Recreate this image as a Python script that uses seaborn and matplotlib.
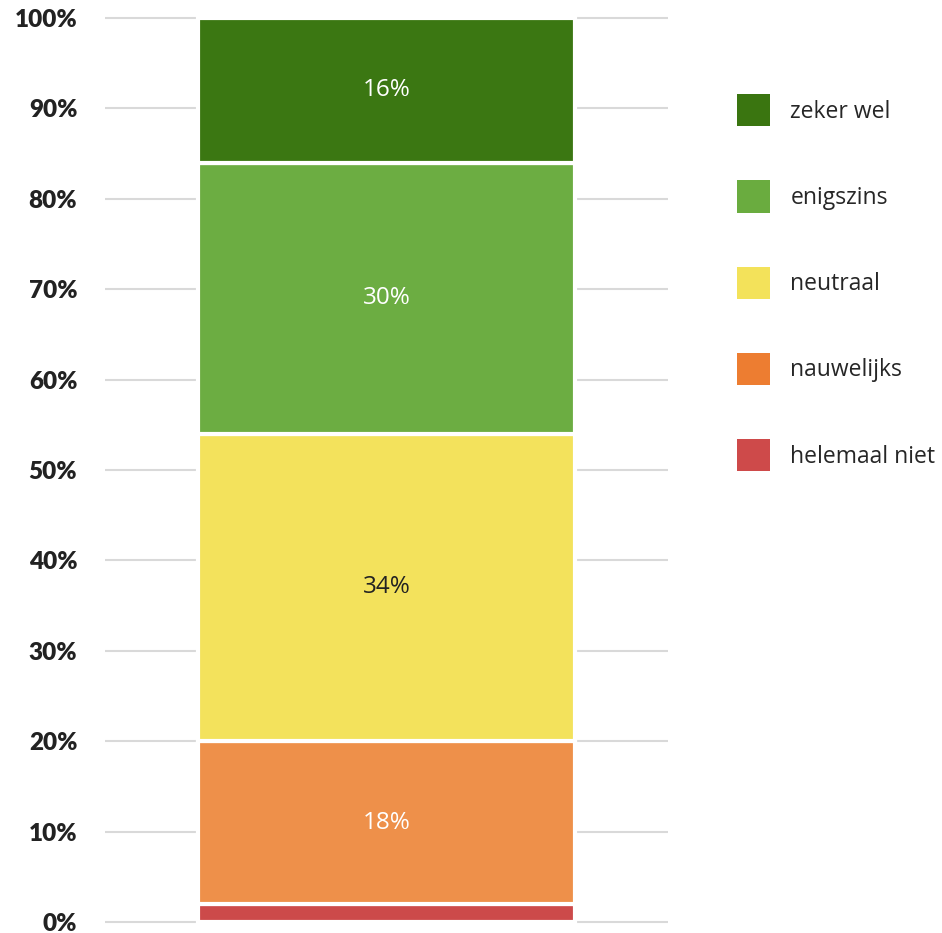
import matplotlib
matplotlib.use("Agg")
import matplotlib.pyplot as plt
import matplotlib.patches as mpatches
import seaborn as sns

# Data (bottom to top)
categories = ["helemaal niet", "nauwelijks", "neutraal", "enigszins", "zeker wel"]
values = [2, 18, 34, 30, 16]
bar_colors = ["#CC4A4A", "#EE904A", "#F3E25C", "#6CAD42", "#3B7712"]
legend_colors = ["#CE4A4A", "#ED7D31", "#F3E25A", "#6AAC3F", "#3A7510"]
label_colors = [None, "white", "#222222", "white", "white"]
yticks = list(range(0, 101, 10))
ytick_labels = [f"{t}%" for t in yticks]

sns.set_style("white")
plt.rcParams["font.family"] = ["Open Sans", "DejaVu Sans"]

fig = plt.figure(figsize=(9.42, 9.33), dpi=100)
ax = fig.add_axes([0.1115, 0.00697, 0.5977, 0.9786])

bottom = 0
for cat, val, col, lc in zip(categories, values, bar_colors, label_colors):
    sns.barplot(x=["q"], y=[val], bottom=bottom, color=col, width=0.67,
                edgecolor="white", linewidth=3, saturation=1, ax=ax, zorder=3)
    if lc is not None:
        ax.text(0, bottom + val / 2, f"{val}%", ha="center", va="center",
                color=lc, fontsize=17.5, zorder=4)
    bottom += val

ax.set_xlim(-0.5, 0.5)
ax.set_ylim(-0.5, 100.5)
ax.set_yticks(yticks)
ax.set_yticklabels(ytick_labels, fontsize=17.5, fontweight="heavy",
                   color="#222222", family=["Lato", "DejaVu Sans"])
ax.set_xticks([])
ax.set_xlabel("")
ax.set_ylabel("")
ax.tick_params(axis="y", length=0, pad=20)
ax.yaxis.grid(True, color="#D9D9D9", linewidth=1.5, zorder=0)
ax.set_axisbelow(True)
for s in ax.spines.values():
    s.set_visible(False)

handles = [mpatches.Patch(facecolor=c, edgecolor="none", label=l)
           for l, c in zip(categories[::-1], legend_colors[::-1])]
fig.legend(handles=handles, loc="upper left", bbox_to_anchor=(0.7722, 0.909),
           frameon=False, fontsize=16.5, handlelength=1.48, handleheight=1.785,
           labelspacing=2.36, handletextpad=0.87, borderaxespad=0)

fig.savefig("out.png", dpi=100)
